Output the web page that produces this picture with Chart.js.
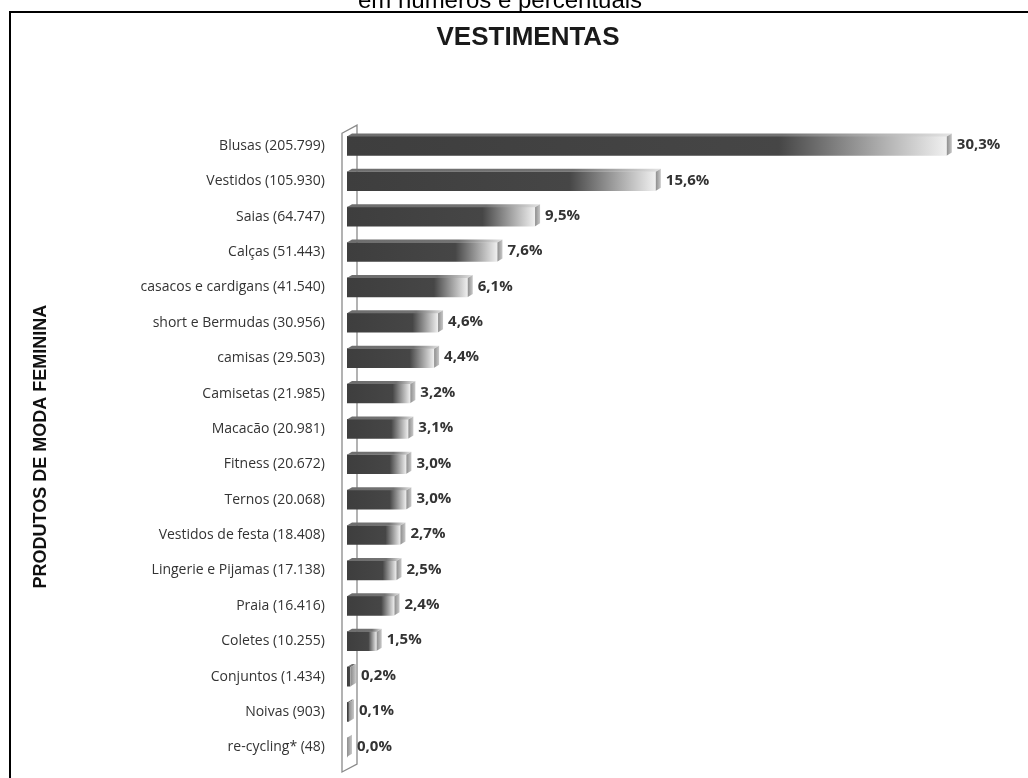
<!DOCTYPE html>
<html>
<head>
<meta charset="utf-8">
<script src="https://cdn.jsdelivr.net/npm/chart.js@4.4.1/dist/chart.umd.min.js"></script>
<style>
  html, body { margin: 0; padding: 0; background: #ffffff; }
  #wrap { width: 1028px; height: 778px; position: relative; }
</style>
</head>
<body>
<div id="wrap"><canvas id="c" width="1028" height="778"></canvas></div>
<script>
// ---- data ----
const categories = ["Blusas", "Vestidos", "Saias", "Calças", "casacos e cardigans", "short e Bermudas",
  "camisas", "Camisetas", "Macacão", "Fitness", "Ternos", "Vestidos de festa",
  "Lingerie e Pijamas", "Praia", "Coletes", "Conjuntos", "Noivas", "re-cycling*"];
const counts = [205799, 105930, 64747, 51443, 41540, 30956, 29503, 21985, 20981, 20672,
  20068, 18408, 17138, 16416, 10255, 1434, 903, 48];
const percents = [30.3, 15.6, 9.5, 7.6, 6.1, 4.6, 4.4, 3.2, 3.1, 3.0, 3.0, 2.7, 2.5, 2.4, 1.5, 0.2, 0.1, 0.0];
const chartTitle = "VESTIMENTAS";
const topCaption = "em números e percentuais";
const axisTitle = "PRODUTOS DE MODA FEMININA";

function fmtCount(n) { return String(n).replace(/\B(?=(\d{3})+(?!\d))/g, "."); }
function fmtPct(v) { return v.toFixed(1).replace(".", ",") + "%"; }
const labels = categories.map((c, i) => c + " (" + fmtCount(counts[i]) + ")");

const DX = 5, DY = 3;

const framePlugin = {
  id: "frame",
  beforeDraw(chart) {
    const ctx = chart.ctx;
    ctx.save();
    ctx.fillStyle = "#ffffff";
    ctx.fillRect(0, 0, chart.width, chart.height);
    ctx.fillStyle = "#000000";
    ctx.font = "24px 'Liberation Sans', Arial, sans-serif";
    ctx.textAlign = "center";
    ctx.textBaseline = "alphabetic";
    ctx.fillText(topCaption, 500, 8);
    ctx.fillStyle = "#000000";
    ctx.fillRect(9, 11, chart.width - 9, 2);
    ctx.fillRect(9, 11, 2, chart.height - 11);
    ctx.restore();
  },
  beforeDatasetsDraw(chart) {
    const ctx = chart.ctx;
    const a = chart.chartArea;
    const l = a.left;
    ctx.save();
    ctx.beginPath();
    ctx.moveTo(l - 5, a.top + 5);
    ctx.lineTo(l + 10, a.top - 3);
    ctx.lineTo(l + 10, a.bottom - 1);
    ctx.lineTo(l - 5, a.bottom + 7);
    ctx.closePath();
    ctx.fillStyle = "#ffffff";
    ctx.fill();
    ctx.strokeStyle = "#8a8a8a";
    ctx.lineWidth = 1.3;
    ctx.stroke();
    ctx.restore();
  },
  afterDatasetsDraw(chart) {
    const ctx = chart.ctx;
    const meta = chart.getDatasetMeta(0);
    ctx.save();
    meta.data.forEach((bar, i) => {
      const p = bar.getProps(["x", "y", "base", "height"], true);
      const top = p.y - p.height / 2, bottom = p.y + p.height / 2;
      const x0 = p.base, x1 = p.x;
      if (x1 - x0 > 1) {
        const g = ctx.createLinearGradient(x0, 0, x1 + DX, 0);
        g.addColorStop(0, "#6e6e6e");
        g.addColorStop(0.72, "#727272");
        g.addColorStop(1, "#e4e4e4");
        ctx.beginPath();
        ctx.moveTo(x0, top);
        ctx.lineTo(x0 + DX, top - DY);
        ctx.lineTo(x1 + DX, top - DY);
        ctx.lineTo(x1, top);
        ctx.closePath();
        ctx.fillStyle = g;
        ctx.fill();
      }
      const gc = ctx.createLinearGradient(x1, 0, x1 + DX, 0);
      gc.addColorStop(0, "#8e8e8e");
      gc.addColorStop(1, "#c8c8c8");
      ctx.beginPath();
      ctx.moveTo(x1, top);
      ctx.lineTo(x1 + DX, top - DY);
      ctx.lineTo(x1 + DX, bottom - DY);
      ctx.lineTo(x1, bottom);
      ctx.closePath();
      ctx.fillStyle = gc;
      ctx.fill();
      ctx.fillStyle = "#333333";
      ctx.font = "bold 15px 'Open Sans', sans-serif";
      ctx.textAlign = "left";
      ctx.textBaseline = "middle";
      ctx.fillText(fmtPct(percents[i]), x1 + DX + 5, p.y - 1);
    });
    ctx.restore();
  }
};

new Chart(document.getElementById("c"), {
  type: "bar",
  data: {
    labels: labels,
    datasets: [{
      data: percents,
      barThickness: 19,
      borderWidth: 0,
      backgroundColor: (c) => {
        const chart = c.chart;
        if (!chart.chartArea || !chart.scales.x) return "#444444";
        const xs = chart.scales.x;
        const v = c.raw || 0;
        const x0 = xs.getPixelForValue(0), x1 = xs.getPixelForValue(v);
        if (x1 - x0 < 1) return "#444444";
        const g = chart.ctx.createLinearGradient(x0, 0, x1, 0);
        g.addColorStop(0, "#3e3e3e");
        g.addColorStop(0.72, "#464646");
        g.addColorStop(1, "#f0f0f0");
        return g;
      }
    }]
  },
  options: {
    indexAxis: "y",
    responsive: false,
    animation: false,
    devicePixelRatio: 1,
    layout: { padding: { left: 28, right: 0, top: 0, bottom: 13 } },
    plugins: {
      legend: { display: false },
      tooltip: { enabled: false },
      title: {
        display: true,
        text: chartTitle,
        color: "#1a1a1a",
        font: { family: "'Liberation Sans', Arial, sans-serif", size: 26, weight: "bold" },
        padding: { top: 22, bottom: 75 }
      }
    },
    scales: {
      x: {
        display: false,
        min: 0,
        max: 34.4
      },
      y: {
        grid: { display: false, drawTicks: false },
        border: { display: false },
        ticks: {
          color: "#333333",
          padding: 22,
          font: { family: "'Open Sans', sans-serif", size: 14 }
        },
        title: {
          display: true,
          text: axisTitle,
          color: "#111111",
          font: { family: "'Liberation Sans', Arial, sans-serif", size: 18, weight: "bold" },
          padding: { top: 2, bottom: 0 }
        },
        afterFit(scale) {
          scale.width = 319;
          scale.paddingTop = 0;
          scale.paddingBottom = 0;
        }
      }
    }
  },
  plugins: [framePlugin]
});
</script>
</body>
</html>
